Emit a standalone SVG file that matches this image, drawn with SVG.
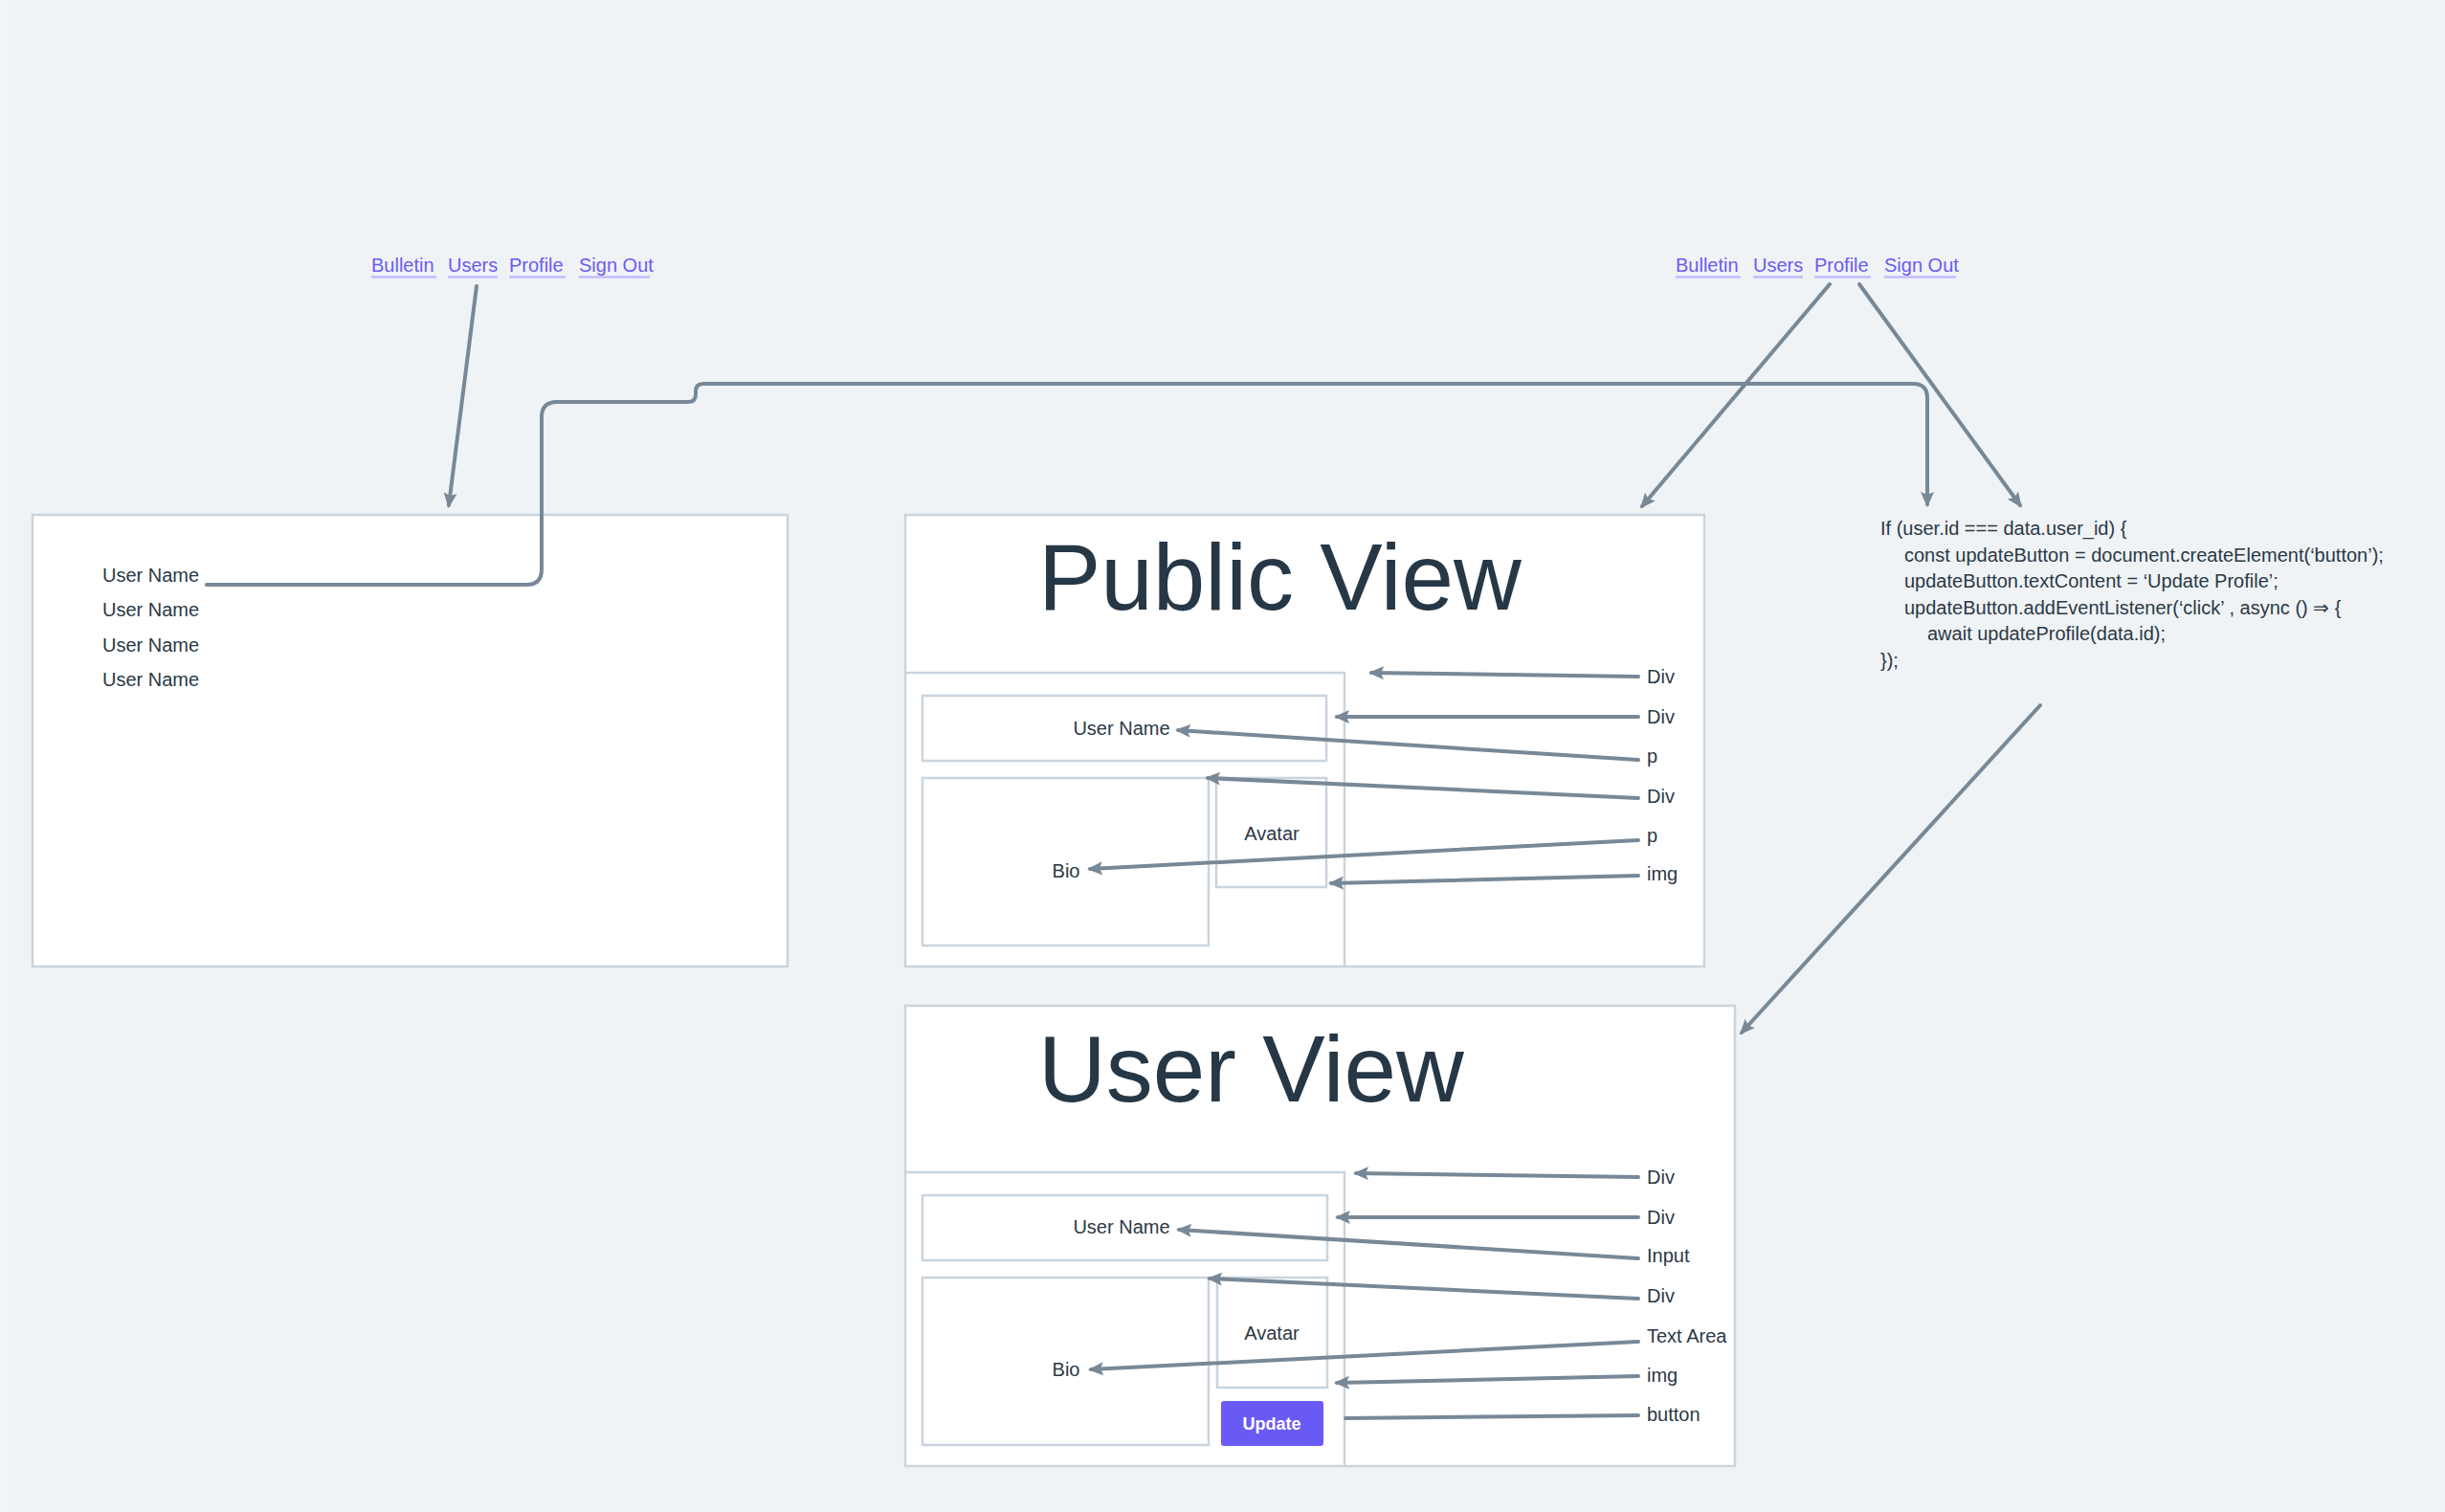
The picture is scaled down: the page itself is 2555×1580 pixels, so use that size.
<svg xmlns="http://www.w3.org/2000/svg" width="2555" height="1580" viewBox="0 0 2555 1580">
<defs>
<style>
.t{font-family:"Liberation Sans",Arial,sans-serif;fill:#2b3945;font-size:20px}
.nav{font-family:"Liberation Sans",Arial,sans-serif;fill:#6a5cf2;font-size:20px}
.ul{stroke:#c3bdfb;stroke-width:2.5;fill:none}
.title{font-family:"Liberation Sans",Arial,sans-serif;fill:#263746;font-size:98px}
.box{fill:#ffffff;stroke:#c9d4de;stroke-width:2.5}
.in{fill:none;stroke:#c9d4de;stroke-width:2.5}
.c{fill:none;stroke:#788896;stroke-width:4;stroke-linecap:round;stroke-linejoin:round}
.ca{fill:none;stroke:#788896;stroke-width:4;stroke-linecap:round;stroke-linejoin:round;marker-end:url(#ah)}
</style>
<marker id="ah" viewBox="0 0 16 14" markerWidth="16" markerHeight="14" refX="13" refY="7" orient="auto" markerUnits="userSpaceOnUse">
<path d="M0,0 L16,7 L0,14 L3,7 z" fill="#788896"/>
</marker>
</defs>
<rect width="2555" height="1580" fill="#eff3f6"/>
<rect width="10" height="1580" fill="#f2f4f7"/>

<g id="nav-left">
<text class="nav" x="388" y="284">Bulletin</text>
<text class="nav" x="468" y="284">Users</text>
<text class="nav" x="532" y="284">Profile</text>
<text class="nav" x="605" y="284">Sign Out</text>
<path class="ul" d="M388,289.5H456M468,289.5H520M532,289.5H591M605,289.5H679"/>
</g>

<g id="nav-right">
<text class="nav" x="1751" y="284">Bulletin</text>
<text class="nav" x="1832" y="284">Users</text>
<text class="nav" x="1896" y="284">Profile</text>
<text class="nav" x="1969" y="284">Sign Out</text>
<path class="ul" d="M1751,289.5H1819M1832,289.5H1884M1896,289.5H1955M1969,289.5H2044"/>
</g>

<g id="users-list">
<rect class="box" x="34" y="538" width="789" height="472"/>
<text class="t" x="107" y="608">User Name</text>
<text class="t" x="107" y="644">User Name</text>
<text class="t" x="107" y="681">User Name</text>
<text class="t" x="107" y="717">User Name</text>
</g>

<g id="public-view">
<rect class="box" x="946" y="538" width="835" height="472"/>
<text class="title" x="1085" y="637">Public View</text>
<path class="in" d="M946,703H1405V1010"/>
<rect class="in" x="964" y="727" width="422" height="68"/>
<rect class="in" x="964" y="813" width="299" height="175"/>
<rect class="in" x="1271" y="813" width="115" height="114"/>
<text class="t" x="1172" y="768" text-anchor="middle">User Name</text>
<text class="t" x="1329" y="878" text-anchor="middle">Avatar</text>
<text class="t" x="1114" y="917" text-anchor="middle">Bio</text>
<text class="t" x="1721" y="714">Div</text>
<text class="t" x="1721" y="756">Div</text>
<text class="t" x="1721" y="797">p</text>
<text class="t" x="1721" y="839">Div</text>
<text class="t" x="1721" y="880">p</text>
<text class="t" x="1721" y="920">img</text>
</g>

<g id="user-view">
<rect class="box" x="946" y="1051" width="867" height="481"/>
<text class="title" x="1085" y="1151">User View</text>
<path class="in" d="M946,1225H1405V1532"/>
<rect class="in" x="964" y="1249" width="423" height="68"/>
<rect class="in" x="964" y="1335" width="299" height="175"/>
<rect class="in" x="1272" y="1335" width="115" height="115"/>
<rect x="1276" y="1464" width="107" height="47" rx="3" fill="#6a5af5"/>
<text x="1329" y="1494" text-anchor="middle" style="font-family:'Liberation Sans',Arial,sans-serif;font-weight:bold;font-size:18px;fill:#ffffff">Update</text>
<text class="t" x="1172" y="1289" text-anchor="middle">User Name</text>
<text class="t" x="1329" y="1400" text-anchor="middle">Avatar</text>
<text class="t" x="1114" y="1438" text-anchor="middle">Bio</text>
<text class="t" x="1721" y="1237">Div</text>
<text class="t" x="1721" y="1279">Div</text>
<text class="t" x="1721" y="1319">Input</text>
<text class="t" x="1721" y="1361">Div</text>
<text class="t" x="1721" y="1403">Text Area</text>
<text class="t" x="1721" y="1444">img</text>
<text class="t" x="1721" y="1485">button</text>
</g>

<g id="code">
<text class="t" x="1965" y="559">If (user.id === data.user_id) {</text>
<text class="t" x="1990" y="587">const updateButton = document.createElement(‘button’);</text>
<text class="t" x="1990" y="614">updateButton.textContent = ‘Update Profile’;</text>
<text class="t" x="1990" y="642">updateButton.addEventListener(‘click’ , async () ⇒ {</text>
<text class="t" x="2014" y="669">await updateProfile(data.id);</text>
<text class="t" x="1965" y="697">});</text>
</g>

<g id="connectors">
<path class="ca" d="M498,299L469,528"/>
<path class="ca" d="M216,611H550Q566,611 566,595V436Q566,420 582,420H719Q727,420 727,412V409Q727,401 735,401H1999Q2014,401 2014,416V527"/>
<path class="ca" d="M1912,297L1716,529"/>
<path class="ca" d="M1943,297L2111,528"/>
<path class="ca" d="M2132,737L1820,1079"/>
<path class="ca" d="M1712,707L1433,703"/>
<path class="ca" d="M1712,749L1397,749"/>
<path class="ca" d="M1712,794L1231,763"/>
<path class="ca" d="M1712,834L1262,813"/>
<path class="ca" d="M1712,878L1139,908"/>
<path class="ca" d="M1712,915L1391,923"/>
<path class="ca" d="M1712,1230L1417,1226"/>
<path class="ca" d="M1712,1272L1398,1272"/>
<path class="ca" d="M1712,1315L1232,1285"/>
<path class="ca" d="M1712,1357L1264,1336"/>
<path class="ca" d="M1712,1402L1140,1431"/>
<path class="ca" d="M1712,1438L1397,1445"/>
<path class="c" d="M1712,1479L1406,1482"/>
</g>
</svg>
